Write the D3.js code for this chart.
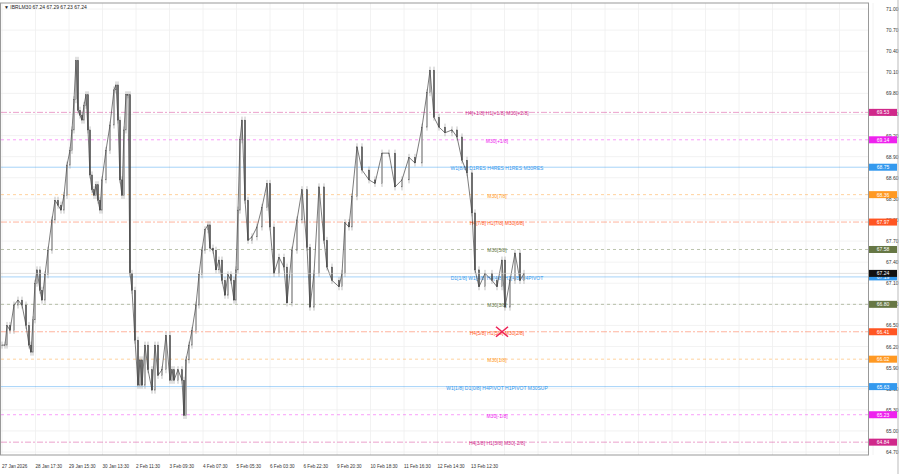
<!DOCTYPE html>
<html><head><meta charset="utf-8">
<script src="https://cdn.jsdelivr.net/npm/d3@7"></script>
<style>body{margin:0;background:#fff}svg{display:block;font-family:"Liberation Sans",Arial,sans-serif}</style>
</head><body><svg id="c" width="900" height="474"></svg>
<script>
const barX = [0,3,5,8,12,16,20,24,27,29,31,33,35,38,40,43,46,50,53,56,59,62,65,68,70,72,74,76,78,80,82,84,86,88,90,92,94,96,98,100,104,108,112,114,116,118,120,122,124,126,128,130,133,136,138,140,143,146,150,153,156,160,164,168,170,172,176,180,182,184,187,190,194,197,200,203,206,208,211,214,217,220,223,226,229,232,234,236,238,240,243,246,250,255,260,265,268,272,277,282,285,290,295,300,305,308,312,317,322,325,330,337,340,343,347,350,355,360,367,373,380,387,393,400,407,413,420,425,428,432,437,443,450,455,460,465,470,473,477,483,490,495,500,503,508,513,518,522];
const closes = [66.22,66.22,66.50,66.43,66.79,66.86,66.79,66.50,66.22,66.12,66.58,67.10,67.29,67.00,66.86,67.22,67.57,68.00,68.28,68.21,68.14,68.35,68.78,68.99,69.28,69.71,70.27,69.56,69.49,69.42,69.63,69.78,69.28,68.64,68.43,68.35,68.50,68.28,68.14,68.57,68.99,69.35,69.85,69.92,69.42,68.57,68.35,69.28,69.78,69.78,67.24,67.00,66.29,65.65,66.01,65.65,66.22,65.87,65.58,66.22,65.79,65.87,66.36,65.72,65.87,65.72,65.87,65.72,65.22,66.01,66.22,66.43,66.79,67.22,67.57,67.86,67.93,67.60,67.57,67.29,67.43,67.14,66.93,67.22,67.14,66.86,67.29,68.14,69.14,69.42,68.28,67.71,67.76,67.90,68.18,68.52,67.90,67.24,67.47,67.33,66.82,67.57,68.00,68.43,67.61,66.76,67.24,68.47,67.71,67.33,67.14,67.05,67.24,67.96,67.90,68.33,69.04,68.71,68.57,68.52,68.95,68.95,68.47,68.57,68.89,68.81,69.32,69.81,70.13,69.46,69.32,69.24,69.28,69.18,68.85,68.67,68.10,67.29,67.05,67.24,67.14,67.05,67.43,66.76,67.14,67.53,67.14,67.24];
const priceTicks = [71.00,70.70,70.40,70.10,69.80,69.50,69.20,68.90,68.60,68.30,68.00,67.70,67.40,67.10,66.80,66.50,66.20,65.90,65.60,65.30,65.00,64.70];
const timeLabels = ["27 Jan 2026","28 Jan 17:30","29 Jan 15:30","30 Jan 13:30","2 Feb 11:30","3 Feb 09:30","4 Feb 07:30","5 Feb 05:30","6 Feb 03:30","6 Feb 22:30","9 Feb 20:30","10 Feb 18:30","11 Feb 16:30","12 Feb 14:30","13 Feb 12:30"];
const levelValues = [69.53,69.14,68.75,68.36,67.97,67.58,67.19,66.80,66.41,66.02,65.63,65.23,64.84];
const levelNames = ["H4[+1/8] H1[+1/8] M30[+2/8]","M30[+1/8]","W1[8/8] D1RES H4RES H1RES M30RES","M30[7/8]","H4[7/8] H1[7/8] M30[6/8]","M30[5/8]","D1[1/8] W1[4/8] H4[4/8] H1[4/8] H4PIVOT","M30[3/8]","H4[5/8] H1[5/8] M30[2/8]","M30[1/8]","W1[1/8] D1[0/8] H4PIVOT H1PIVOT M30SUP","M30[-1/8]","H4[3/8] H1[3/8] M30[-2/8]"];
const levelColors = ["#d0288a","#ee22ee","#3399ee","#ff9922","#ff5522","#667744","#3399ee","#667744","#ff5522","#ff9922","#3399ee","#ee22ee","#d0288a"];
const lastPrice = 67.24;

const svg = d3.select("#c");
const W = 868, pTop = 3, pBot = 455;
const y = d3.scaleLinear().domain([71.0, 64.7]).range([9, 452]);
const x = d3.scaleLinear().domain([0, 522]).range([2, 524]);
const tx = d3.scaleLinear().domain([0, 1]).range([2, 35.5]);

svg.append("g").selectAll("line").data(priceTicks).join("line")
  .attr("x1",0).attr("x2",W).attr("y1",d=>y(d)).attr("y2",d=>y(d)).attr("stroke","#efefef").attr("stroke-width",0.8);
const vg = d3.range(0, 27);
svg.append("g").selectAll("line").data(vg).join("line")
  .attr("x1",d=>tx(d)).attr("x2",d=>tx(d)).attr("y1",pTop).attr("y2",pBot).attr("stroke","#efefef").attr("stroke-width",0.8);
svg.append("rect").attr("x",0.5).attr("y",pTop).attr("width",W).attr("height",pBot-pTop).attr("fill","none").attr("stroke","#999").attr("stroke-width",1);

levelValues.forEach((v,i)=>{
  const c = levelColors[i], yy = y(v);
  const solid = c === "#3399ee";
  svg.append("line").attr("x1",1).attr("x2",W).attr("y1",yy).attr("y2",yy).attr("stroke",c).attr("stroke-width",0.8)
    .attr("stroke-opacity",0.55).attr("stroke-dasharray", solid ? null : (i%2 ? "3,3" : "6,2,2,2"));
  svg.append("text").attr("x",497).attr("y",yy+3).attr("text-anchor","middle").attr("font-size",5).attr("fill",c).text(levelNames[i]);
});

const g = svg.append("g");
closes.forEach((c,i)=>{
  const o = i ? closes[i-1] : c;
  const hi = Math.max(o,c)+0.05, lo = Math.min(o,c)-0.05;
  const xx = x(barX[i]);
  g.append("line").attr("x1",xx).attr("x2",xx).attr("y1",y(hi)).attr("y2",y(lo)).attr("stroke","#999").attr("stroke-width",0.6);
  g.append("rect").attr("x",xx-0.6).attr("width",1.2).attr("y",y(Math.max(o,c))).attr("height",Math.max(0.6,Math.abs(y(o)-y(c))))
    .attr("fill", c>=o ? "#eee" : "#444").attr("stroke","#555").attr("stroke-width",0.4);
});
g.append("path").datum(closes).attr("fill","none").attr("stroke","#444").attr("stroke-width",0.7)
  .attr("d", d3.line().x((d,i)=>x(barX[i])).y(d=>y(d)));

svg.append("line").attr("x1",1).attr("x2",W).attr("y1",y(lastPrice)).attr("y2",y(lastPrice)).attr("stroke","#ccc").attr("stroke-width",0.6);

svg.append("g").selectAll("text").data(priceTicks).join("text")
  .attr("x",W+18).attr("y",d=>y(d)+2).attr("font-size",5).attr("fill","#333").text(d=>d.toFixed(2));
levelValues.forEach((v,i)=>{
  const yy = y(v);
  svg.append("rect").attr("x",W+1).attr("y",yy-3.5).attr("width",28).attr("height",7).attr("fill",levelColors[i]);
  svg.append("text").attr("x",W+15).attr("y",yy+2).attr("text-anchor","middle").attr("font-size",5).attr("fill","#fff").text(v.toFixed(2));
});
svg.append("rect").attr("x",W+1).attr("y",y(lastPrice)-3.5).attr("width",28).attr("height",7).attr("fill","#111");
svg.append("text").attr("x",W+15).attr("y",y(lastPrice)+2).attr("text-anchor","middle").attr("font-size",5).attr("fill","#fff").text(lastPrice.toFixed(2));
svg.append("line").attr("x1",W+30).attr("x2",W+30).attr("y1",0).attr("y2",474).attr("stroke","#bbb");
svg.append("g").selectAll("text").data(timeLabels).join("text")
  .attr("x",(d,i)=>tx(i)).attr("y",pBot+13).attr("font-size",4.6).attr("fill","#333").text(d=>d);

const cx = x(500), cy = y(66.41);
svg.append("path").attr("d",`M${cx-6},${cy-5}L${cx+6},${cy+5}M${cx+6},${cy-5}L${cx-6},${cy+5}`).attr("stroke","#ee2255").attr("stroke-width",1.6);

svg.append("text").attr("x",4).attr("y",9).attr("font-size",5).attr("fill","#222").text("▼ IBRLM30  67.24 67.29 67.23 67.24");
</script></body></html>
